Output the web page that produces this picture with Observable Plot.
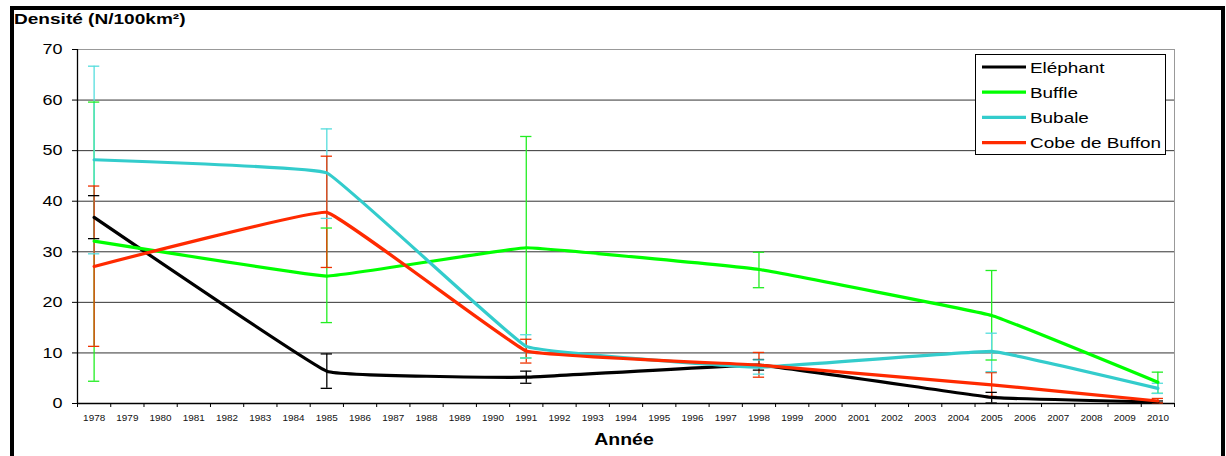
<!DOCTYPE html>
<html>
<head>
<meta charset="utf-8">
<script src="https://cdn.jsdelivr.net/npm/d3@7"></script>
<script src="https://cdn.jsdelivr.net/npm/@observablehq/plot@0.6"></script>
<style>
  html, body { margin: 0; padding: 0; background: #fff; }
  #chart { width: 1226px; height: 456px; overflow: hidden; }
</style>
</head>
<body>
<div id="chart"></div>
<script>
// ---- Data ----
const years = [1978, 1985, 1991, 1998, 2005, 2010];
const axisYears = d3.range(1978, 2011);
const yTicks = [0, 10, 20, 30, 40, 50, 60, 70];

const species = ["Eléphant", "Buffle", "Bubale", "Cobe de Buffon"];

const elephant     = [36.8, 6.4, 5.2, 7.6, 1.2, 0.3];
const elephantLow  = [32.6, 3.0, 4.0, 6.6, 0.1, 0.1];
const elephantHigh = [41.1, 9.8, 6.4, 8.7, 2.2, 0.5];

const buffle     = [32.1, 25.2, 30.8, 26.5, 17.4, 4.2];
const buffleLow  = [4.4, 16.0, 9.0, 22.9, 8.6, 2.0];
const buffleHigh = [59.6, 34.7, 52.8, 29.9, 26.3, 6.2];

const bubale     = [48.2, 45.6, 11.3, 7.2, 10.3, 3.0];
const bubaleLow  = [29.6, 36.6, 9.0, 5.8, 6.3, 2.0];
const bubaleHigh = [66.7, 54.3, 13.6, 8.6, 13.9, 4.0];

const cobe     = [27.1, 37.8, 10.4, 7.6, 3.7, 0.5];
const cobeLow  = [11.3, 26.9, 8.0, 5.2, 1.4, 0.1];
const cobeHigh = [43.0, 48.9, 12.7, 10.1, 6.1, 1.0];

const lineColors = ["#000000", "#00ff00", "#33cccc", "#ff2a00"];
const errColors  = ["#000000", "#22ee22", "#55dddd", "#ee3300"];

// ---- Build a tidy table ----
const seriesValues = [elephant, buffle, bubale, cobe];
const seriesLow = [elephantLow, buffleLow, bubaleLow, cobeLow];
const seriesHigh = [elephantHigh, buffleHigh, bubaleHigh, cobeHigh];
const table = [];
species.forEach((s, i) => {
  years.forEach((yr, j) => {
    table.push({
      species: s, idx: i, year: yr,
      value: seriesValues[i][j], lo: seriesLow[i][j], hi: seriesHigh[i][j],
      color: lineColors[i], ecolor: errColors[i]
    });
  });
});

const font = "'Liberation Sans', Arial, Helvetica, sans-serif";
const capHalf = 0.17; // half cap width in years

const chart = Plot.plot({
  width: 1226,
  height: 456,
  marginLeft: 77,
  marginRight: 52,
  marginTop: 49,
  marginBottom: 53,
  style: { fontFamily: font, background: "#fff", overflow: "visible" },
  x: { type: "linear", domain: [1977.5, 2010.5] },
  y: { domain: [0, 70] },
  color: { type: "identity" },
  marks: [
    // gridlines
    Plot.ruleY(yTicks.filter(v => v > 0 && v < 70), { stroke: "#333", strokeWidth: 1 }),
    Plot.ruleY([70], { stroke: "#999", strokeWidth: 1 }),
    Plot.ruleX([2010.5], { stroke: "#999", strokeWidth: 1 }),
    // axes
    Plot.axisY({ ticks: yTicks, tickSize: 5, tickPadding: 10, fontSize: 15, label: null, tickFormat: d => String(d), fill: "#000" }),
    Plot.axisX({ ticks: axisYears.map(y => y - 0.5).concat([2010.5]), tickSize: 4, tickFormat: () => "", label: null }),
    Plot.axisX({ ticks: axisYears, tickSize: 0, tickPadding: 11, fontSize: 9, tickFormat: d => String(d), label: null, fill: "#111" }),
    Plot.ruleX([1977.5], { stroke: "#000", strokeWidth: 1.3 }),
    Plot.ruleY([0], { stroke: "#000", strokeWidth: 1.3 }),
    // error bars
    Plot.ruleX(table, { x: "year", y1: "lo", y2: "hi", stroke: "ecolor", strokeWidth: 1.3 }),
    Plot.ruleY(table, { x1: d => d.year - capHalf, x2: d => d.year + capHalf, y: "hi", stroke: "ecolor", strokeWidth: 1.3 }),
    Plot.ruleY(table, { x1: d => d.year - capHalf, x2: d => d.year + capHalf, y: "lo", stroke: "ecolor", strokeWidth: 1.3 }),
    // lines
    Plot.line(table, { x: "year", y: "value", z: "species", stroke: "color", strokeWidth: 3.2, curve: "cardinal", tension: 0.8 })
  ]
});

document.getElementById("chart").appendChild(chart);

// horizontally widen text (the reference's lettering is wider than the installed fonts)
function stretch(node, factor) {
  const w = node.getComputedTextLength();
  if (w > 0) {
    node.setAttribute("textLength", (w * factor).toFixed(2));
    node.setAttribute("lengthAdjust", "spacingAndGlyphs");
  }
}

const svg = d3.select(chart);

// stretch Plot's tick labels
svg.selectAll("text").each(function () {
  const fs = parseFloat(getComputedStyle(this).fontSize);
  stretch(this, fs >= 12 ? 1.2 : 1.1);
});

// ---- Decorations: outer frame, title, axis label, legend ----
svg.append("rect")
  .attr("x", 12).attr("y", 8)
  .attr("width", 1211).attr("height", 470)
  .attr("fill", "none").attr("stroke", "#000").attr("stroke-width", 4);

const title = svg.append("text")
  .attr("x", 14).attr("y", 24)
  .attr("text-anchor", "start")
  .attr("font-family", font).attr("font-size", 15).attr("font-weight", "bold")
  .attr("fill", "#000")
  .text("Densité (N/100km²)");
stretch(title.node(), 1.27);

const xlab = svg.append("text")
  .attr("x", 624).attr("y", 445)
  .attr("text-anchor", "middle")
  .attr("font-family", font).attr("font-size", 16.5).attr("font-weight", "bold")
  .attr("fill", "#000")
  .text("Année");
stretch(xlab.node(), 1.18);

const lg = svg.append("g");
lg.append("rect")
  .attr("x", 975.5).attr("y", 54.5).attr("width", 190).attr("height", 100)
  .attr("fill", "#fff").attr("stroke", "#000").attr("stroke-width", 1);
species.forEach((s, i) => {
  const cy = 67 + i * 25.2;
  lg.append("line")
    .attr("x1", 982).attr("x2", 1026).attr("y1", cy).attr("y2", cy)
    .attr("stroke", lineColors[i]).attr("stroke-width", 3.2);
  const t = lg.append("text")
    .attr("x", 1030).attr("y", cy + 5.5)
    .attr("text-anchor", "start")
    .attr("font-family", font).attr("font-size", 15)
    .attr("fill", "#000")
    .text(s);
  stretch(t.node(), 1.26);
});
</script>
</body>
</html>
